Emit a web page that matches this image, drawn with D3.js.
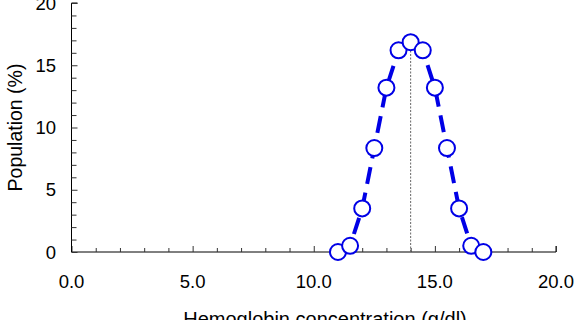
<!DOCTYPE html>
<html><head><meta charset="utf-8">
<script src="https://cdn.jsdelivr.net/npm/d3@7"></script>
<style>body{margin:0;background:#fff}svg{display:block}text{font-family:"Liberation Sans",Arial,sans-serif}</style>
</head><body><svg id="c" width="580" height="320"></svg>
<script>
const hb = [11, 11.5, 12, 12.5, 13, 13.5, 14, 14.5, 15, 15.5, 16, 16.5, 17];
const population = [0, 0.5, 3.5, 8.35, 13.2, 16.2, 16.85, 16.2, 13.2, 8.35, 3.5, 0.5, 0];
const meanHb = 14;
const xTicks = [0, 5, 10, 15, 20];
const yTicks = [0, 5, 10, 15, 20];

const svg = d3.select("#c");
const x = d3.scaleLinear().domain([0, 20]).range([71.5, 556]);
const y = d3.scaleLinear().domain([0, 20]).range([252, 3]);

// axes
const gx = svg.append("g").attr("transform", `translate(0,${y(0)})`);
gx.call(d3.axisBottom(x).tickValues(d3.range(0, 21, 1)).tickSize(-4).tickFormat(""));
gx.selectAll(".tick line").attr("stroke", "#333");
gx.select(".domain").attr("stroke", "#000").attr("d", `M${x(0)},0H${x(20)}V-6`);
gx.selectAll(".tick").filter(d => d % 5 === 0).select("line").attr("y2", -6);
xTicks.forEach(v => svg.append("text").attr("x", x(v)).attr("y", 288)
  .attr("text-anchor", "middle").attr("font-size", 18.5).attr("fill", "#000").text(v.toFixed(1)));

const gy = svg.append("g").attr("transform", `translate(${x(0)},0)`);
gy.call(d3.axisLeft(y).tickValues(d3.range(0, 21, 1)).tickSize(-5).tickFormat(""));
gy.selectAll(".tick line").attr("stroke", "#333");
gy.select(".domain").attr("stroke", "#000").attr("d", `M6,${y(20)}H0V${y(0)}`);
gy.selectAll(".tick").filter(d => d % 5 === 0).select("line").attr("x2", 6);
yTicks.forEach(v => svg.append("text").attr("x", 56).attr("y", y(v)).attr("dy", "0.36em")
  .attr("text-anchor", "end").attr("font-size", 18.5).attr("fill", "#000").text(v));

svg.append("text").attr("transform", `translate(22,${y(10)}) rotate(-90)`)
  .attr("text-anchor", "middle").attr("font-size", 19.5).text("Population (%)");
svg.append("text").attr("x", 325).attr("y", 326)
  .attr("text-anchor", "middle").attr("font-size", 20).text("Hemoglobin concentration (g/dl)");

// mean line
svg.append("line").attr("x1", x(meanHb)).attr("x2", x(meanHb))
  .attr("y1", y(0)).attr("y2", y(d3.max(population)))
  .attr("stroke", "#666").attr("stroke-width", 1).attr("stroke-dasharray", "2,1.5");

const pts = hb.map((h, i) => [h, population[i]]);
svg.append("path").datum(pts)
  .attr("d", d3.line().x(d => x(d[0])).y(d => y(d[1])))
  .attr("fill", "none").attr("stroke", "#0000e6").attr("stroke-width", 4)
  .attr("stroke-dasharray", "17,9");

svg.selectAll("circle.p").data(pts).join("circle").attr("class", "p")
  .attr("cx", d => x(d[0])).attr("cy", d => y(d[1])).attr("r", 8)
  .attr("fill", "#fff").attr("stroke", "#0000e6").attr("stroke-width", 2);
</script></body></html>
